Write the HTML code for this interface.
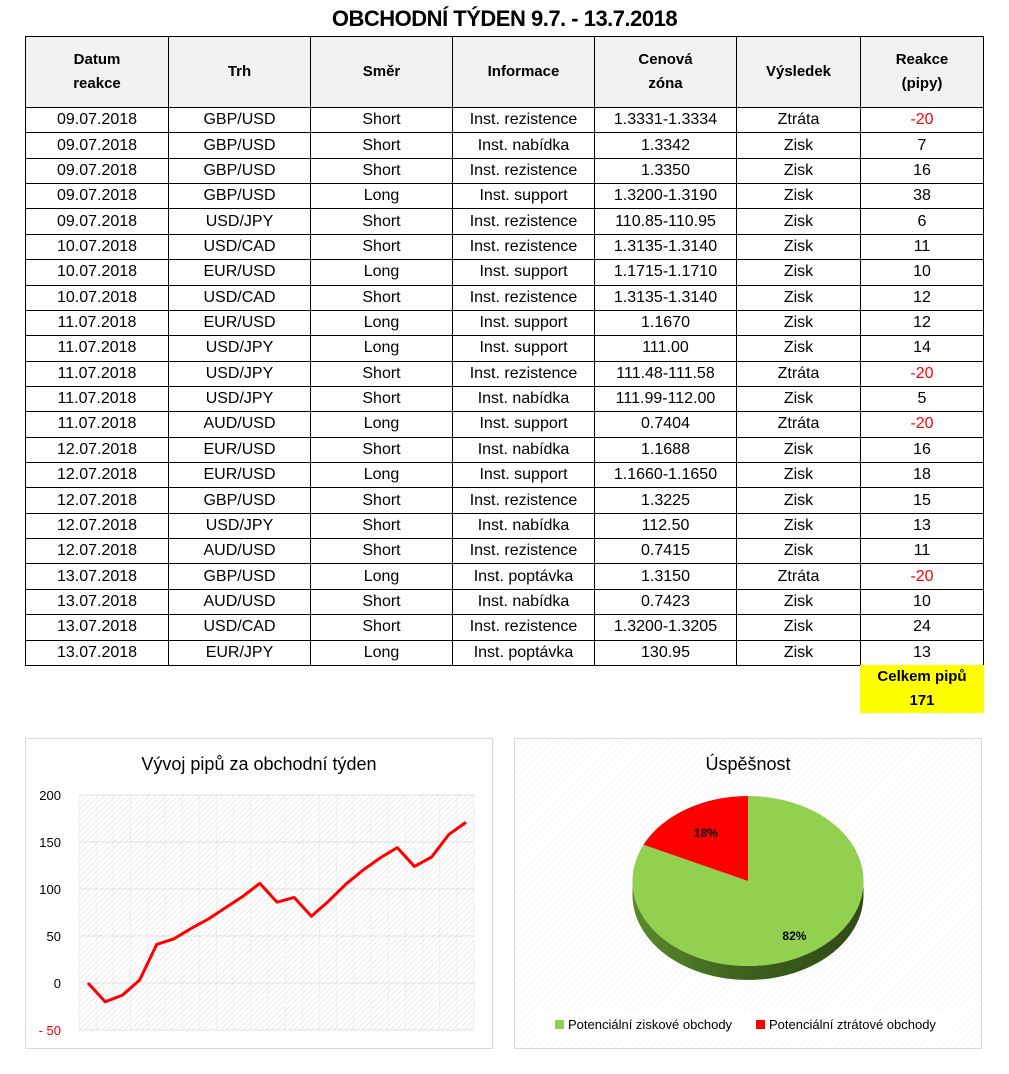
<!DOCTYPE html>
<html><head><meta charset="utf-8"><style>
body{margin:0;width:1009px;height:1074px;background:#fff;font-family:"Liberation Sans",sans-serif;position:relative;overflow:hidden}
#title{position:absolute;left:0;top:6px;width:1009px;text-align:center;font-weight:bold;font-size:22px;letter-spacing:-0.5px}
table{position:absolute;left:25px;top:36px;border-collapse:collapse;font-size:16px;table-layout:fixed}
td,th{border:1px solid #000;text-align:center;padding:0;line-height:18px}
th{background:#f2f2f2;height:70px;font-size:15px;font-weight:bold;line-height:24px}
tbody tr{height:25.36px}
.neg{color:#f00}
#total{position:absolute;left:860px;top:665px;width:124px;height:48px;background:#ff0;font-weight:bold;font-size:15px;text-align:center;line-height:24px}
</style></head><body>
<div id="title">OBCHODNÍ TÝDEN 9.7. - 13.7.2018</div>
<table>
<colgroup><col style="width:143px"><col style="width:142px"><col style="width:142px"><col style="width:142px"><col style="width:142px"><col style="width:124px"><col style="width:123px"></colgroup>
<thead><tr><th>Datum<br>reakce</th><th>Trh</th><th>Směr</th><th>Informace</th><th>Cenová<br>zóna</th><th>Výsledek</th><th>Reakce<br>(pipy)</th></tr></thead>
<tbody id="tb"></tbody></table>
<div id="total">Celkem pipů<br>171</div>

<svg width="1009" height="1074" style="position:absolute;left:0;top:0" id="svg">
<defs>
<pattern id="hatch" width="4" height="4" patternUnits="userSpaceOnUse" patternTransform="rotate(45)"><rect width="4" height="4" fill="#fff"/><line x1="0" y1="0" x2="0" y2="4" stroke="#e2e2e2" stroke-width="1.3"/></pattern>
<pattern id="hatch2" width="5" height="5" patternUnits="userSpaceOnUse" patternTransform="rotate(45)"><rect width="5" height="5" fill="#fff"/><line x1="0" y1="0" x2="0" y2="5" stroke="#f2f2f2" stroke-width="1.5"/></pattern>
<linearGradient id="side" x1="0" x2="1"><stop offset="0" stop-color="#5a8a2a"/><stop offset="0.5" stop-color="#3d5f1d"/><stop offset="1" stop-color="#2f4a16"/></linearGradient>
</defs>
<g>
<rect x="25.5" y="738.5" width="467" height="310" fill="#fff" stroke="#d9d9d9"/>
<text x="259" y="770" text-anchor="middle" font-size="18" font-family="Liberation Sans">Vývoj pipů za obchodní týden</text>
<rect x="79" y="795" width="395" height="235" fill="url(#hatch)"/>
<g id="lc"></g>
</g>
<g>
<rect x="514.5" y="738.5" width="467" height="310" fill="url(#hatch2)" stroke="#d9d9d9"/>
<text x="748" y="770" text-anchor="middle" font-size="18" font-family="Liberation Sans">Úspěšnost</text>
<g id="pc"></g>
<rect x="537" y="1011" width="418" height="27" fill="#fff"/>
<rect x="555" y="1020" width="9" height="9" fill="#92d050"/>
<text x="568" y="1029" font-size="13" font-family="Liberation Sans">Potenciální ziskové obchody</text>
<rect x="756" y="1020" width="9" height="9" fill="#f00"/>
<text x="769" y="1029" font-size="13" font-family="Liberation Sans">Potenciální ztrátové obchody</text>
</g>
</svg>
<script>
const dates=["09.07.2018","09.07.2018","09.07.2018","09.07.2018","09.07.2018","10.07.2018","10.07.2018","10.07.2018","11.07.2018","11.07.2018","11.07.2018","11.07.2018","11.07.2018","12.07.2018","12.07.2018","12.07.2018","12.07.2018","12.07.2018","13.07.2018","13.07.2018","13.07.2018","13.07.2018"];
const markets=["GBP/USD","GBP/USD","GBP/USD","GBP/USD","USD/JPY","USD/CAD","EUR/USD","USD/CAD","EUR/USD","USD/JPY","USD/JPY","USD/JPY","AUD/USD","EUR/USD","EUR/USD","GBP/USD","USD/JPY","AUD/USD","GBP/USD","AUD/USD","USD/CAD","EUR/JPY"];
const dirs=["Short","Short","Short","Long","Short","Short","Long","Short","Long","Long","Short","Short","Long","Short","Long","Short","Short","Short","Long","Short","Short","Long"];
const infos=["Inst. rezistence","Inst. nabídka","Inst. rezistence","Inst. support","Inst. rezistence","Inst. rezistence","Inst. support","Inst. rezistence","Inst. support","Inst. support","Inst. rezistence","Inst. nabídka","Inst. support","Inst. nabídka","Inst. support","Inst. rezistence","Inst. nabídka","Inst. rezistence","Inst. poptávka","Inst. nabídka","Inst. rezistence","Inst. poptávka"];
const zones=["1.3331-1.3334","1.3342","1.3350","1.3200-1.3190","110.85-110.95","1.3135-1.3140","1.1715-1.1710","1.3135-1.3140","1.1670","111.00","111.48-111.58","111.99-112.00","0.7404","1.1688","1.1660-1.1650","1.3225","112.50","0.7415","1.3150","0.7423","1.3200-1.3205","130.95"];
const results=["Ztráta","Zisk","Zisk","Zisk","Zisk","Zisk","Zisk","Zisk","Zisk","Zisk","Ztráta","Zisk","Ztráta","Zisk","Zisk","Zisk","Zisk","Zisk","Ztráta","Zisk","Zisk","Zisk"];
const pips=[-20,7,16,38,6,11,10,12,12,14,-20,5,-20,16,18,15,13,11,-20,10,24,13];
const yTicks=[200,150,100,50,0,-50];
const pieValues=[82,18];
const pieLabels=["82%","18%"];
const pieColors=["#92d050","#ff0000"];

const tb=document.getElementById('tb');
dates.forEach((d,i)=>{
  const tr=document.createElement('tr');
  
  
  [d,markets[i],dirs[i],infos[i],zones[i],results[i],pips[i]].forEach((v,j)=>{
    const td=document.createElement('td');td.textContent=v;
    if(j===6&&v<0)td.className='neg';
    tr.appendChild(td);
  });
  tb.appendChild(tr);
});

const NS='http://www.w3.org/2000/svg';
function mk(t,a,p){const e=document.createElementNS(NS,t);for(const k in a)e.setAttribute(k,a[k]);p.appendChild(e);return e;}
const lc=document.getElementById('lc');
const X0=88,X1=466,Y0=983,PX=47/50;
const cum=[0];pips.forEach(p=>cum.push(cum[cum.length-1]+p));
const xs=i=>X0+i*(X1-X0)/(cum.length-1);
const ys=v=>Y0-v*PX;
for(let i=0;i<=cum.length;i++){const x=79+i*(474-79)/cum.length;mk('line',{x1:x,x2:x,y1:795,y2:1030,stroke:'#eeeeee','stroke-width':1},lc);}
yTicks.forEach(t=>{
  const gl=mk('line',{x1:79,x2:474,y1:ys(t),y2:ys(t),stroke:'#e0e0e0'},lc);
  
  
  const tx=mk('text',{x:61,y:ys(t)+5,'text-anchor':'end','font-size':13,'font-family':'Liberation Sans',fill:t<0?'#f00':'#000'},lc);
  tx.textContent=t<0?'- '+Math.abs(t):t;
  
  
});
const line=mk('polyline',{points:cum.map((v,i)=>xs(i)+','+ys(v)).join(' '),fill:'none',stroke:'#f00','stroke-width':3,'stroke-linejoin':'round'},lc);



const pc=document.getElementById('pc');
const cx=748,cy=881,rx=115.5,ry=85,dep=14;
const tot=pieValues.reduce((a,b)=>a+b,0);
mk('path',{d:`M${cx-rx},${cy} A${rx},${ry} 0 0 0 ${cx+rx},${cy} L${cx+rx},${cy+dep} A${rx},${ry} 0 0 1 ${cx-rx},${cy+dep} Z`,fill:'url(#side)'},pc);
const pt=a=>[cx+rx*Math.sin(a),cy-ry*Math.cos(a)];
let start=0;
pieValues.forEach((v,i)=>{
  const ang=v/tot*2*Math.PI, end=start+ang;
  const p0=pt(start),p1=pt(end);
  const s=mk('path',{d:`M${cx},${cy} L${p0[0]},${p0[1]} A${rx},${ry} 0 ${ang>Math.PI?1:0} 1 ${p1[0]},${p1[1]} Z`,fill:pieColors[i]},pc);
  
  
  const mid=start+ang/2, f=i===0?0.75:0.68;
  const t=mk('text',{x:cx+rx*f*Math.sin(mid),y:cy-ry*f*Math.cos(mid)+5,'text-anchor':'middle','font-size':12,'font-weight':'bold','font-family':'Liberation Sans'},pc);
  t.textContent=pieLabels[i];
  
  
  start=end;
});
</script>
</body></html>
